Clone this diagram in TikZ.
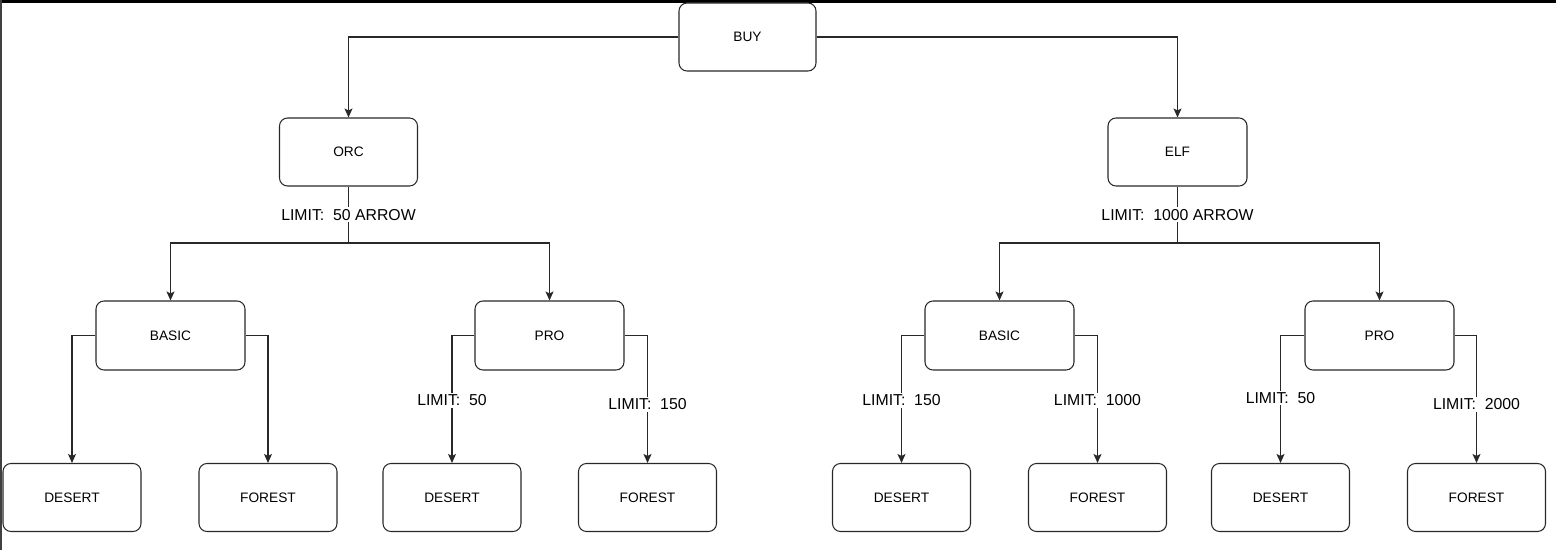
\documentclass[tikz,border=0pt]{standalone}
\usepackage{fontspec}
\setmainfont{Liberation Sans}
\usepackage{tikz}
\usetikzlibrary{positioning,arrows.meta,calc}
\usepackage{xcolor}
\definecolor{EdgeGray}{RGB}{40,40,40}

\begin{document}
\begin{tikzpicture}[
    rbox/.style={rectangle, draw=EdgeGray, fill=white, rounded corners=0.16cm,
                 line width=0.6pt, inner sep=0pt,
                 minimum width=2.76cm, minimum height=1.36cm,
                 align=center, font=\fontsize{7.8}{9}\selectfont},
    midbox/.style={rbox, minimum width=2.98cm, minimum height=1.38cm},
    arrow/.style={-{Stealth[length=1.8mm, width=1.6mm, inset=0.4mm]},
                  draw=EdgeGray, line width=0.6pt},
    lbl/.style={fill=white, inner sep=1pt, font=\fontsize{9}{11}\selectfont}
]
    \useasboundingbox (0,0) rectangle (31.12,-11);
    % screenshot frame
    \draw[line width=0.06cm] (0,-0.03) -- (31.12,-0.03);
    \draw[line width=0.04cm, black!75] (0.02,0) -- (0.02,-11);

    % top
    \node[rbox, minimum width=2.74cm] (buy) at (14.95,-0.74) {BUY};
    \node[rbox] (orc) at (6.97,-3.04) {ORC};
    \node[rbox, minimum width=2.78cm] (elf) at (23.55,-3.04) {ELF};

    % tiers
    \node[midbox] (basic1) at (3.41,-6.71) {BASIC};
    \node[midbox] (pro1) at (10.99,-6.71) {PRO};
    \node[midbox] (basic2) at (19.99,-6.71) {BASIC};
    \node[midbox] (pro2) at (27.59,-6.71) {PRO};

    % maps
    \node[rbox] (des1) at (1.44,-9.95) {DESERT};
    \node[rbox] (for1) at (5.36,-9.95) {FOREST};
    \node[rbox] (des2) at (9.04,-9.95) {DESERT};
    \node[rbox] (for2) at (12.95,-9.95) {FOREST};
    \node[rbox] (des3) at (18.03,-9.95) {DESERT};
    \node[rbox] (for3) at (21.95,-9.95) {FOREST};
    \node[rbox] (des4) at (25.61,-9.95) {DESERT};
    \node[rbox] (for4) at (29.53,-9.95) {FOREST};

    \coordinate (orcfork) at (6.97,-4.86);
    \coordinate (elffork) at (23.55,-4.86);

    \draw[arrow] (buy.west) -| (orc.north);
    \draw[arrow] (buy.east) -| (elf.north);

    \draw[arrow, -] (orc.south) -- (orcfork) node[lbl, midway] {LIMIT:~~50 ARROW};
    \draw[arrow] (orcfork) -| (basic1.north);
    \draw[arrow] (orcfork) -| (pro1.north);
    \draw[arrow, -] (elf.south) -- (elffork) node[lbl, midway] {LIMIT:~~1000 ARROW};
    \draw[arrow] (elffork) -| (basic2.north);
    \draw[arrow] (elffork) -| (pro2.north);

    \draw[arrow] (basic1.west) -| (des1.north);
    \draw[arrow] (basic1.east) -| (for1.north);
    \draw[arrow] (pro1.west) -| (des2.north) node[lbl, pos=0.755] {LIMIT:~~50};
    \draw[arrow] (pro1.east) -| (for2.north) node[lbl, pos=0.77] {LIMIT:~~150};
    \draw[arrow] (basic2.west) -| (des3.north) node[lbl, pos=0.755] {LIMIT:~~150};
    \draw[arrow] (basic2.east) -| (for3.north) node[lbl, pos=0.755] {LIMIT:~~1000};
    \draw[arrow] (pro2.west) -| (des4.north) node[lbl, pos=0.745] {LIMIT:~~50};
    \draw[arrow] (pro2.east) -| (for4.north) node[lbl, pos=0.77] {LIMIT:~~2000};
\end{tikzpicture}
\end{document}
